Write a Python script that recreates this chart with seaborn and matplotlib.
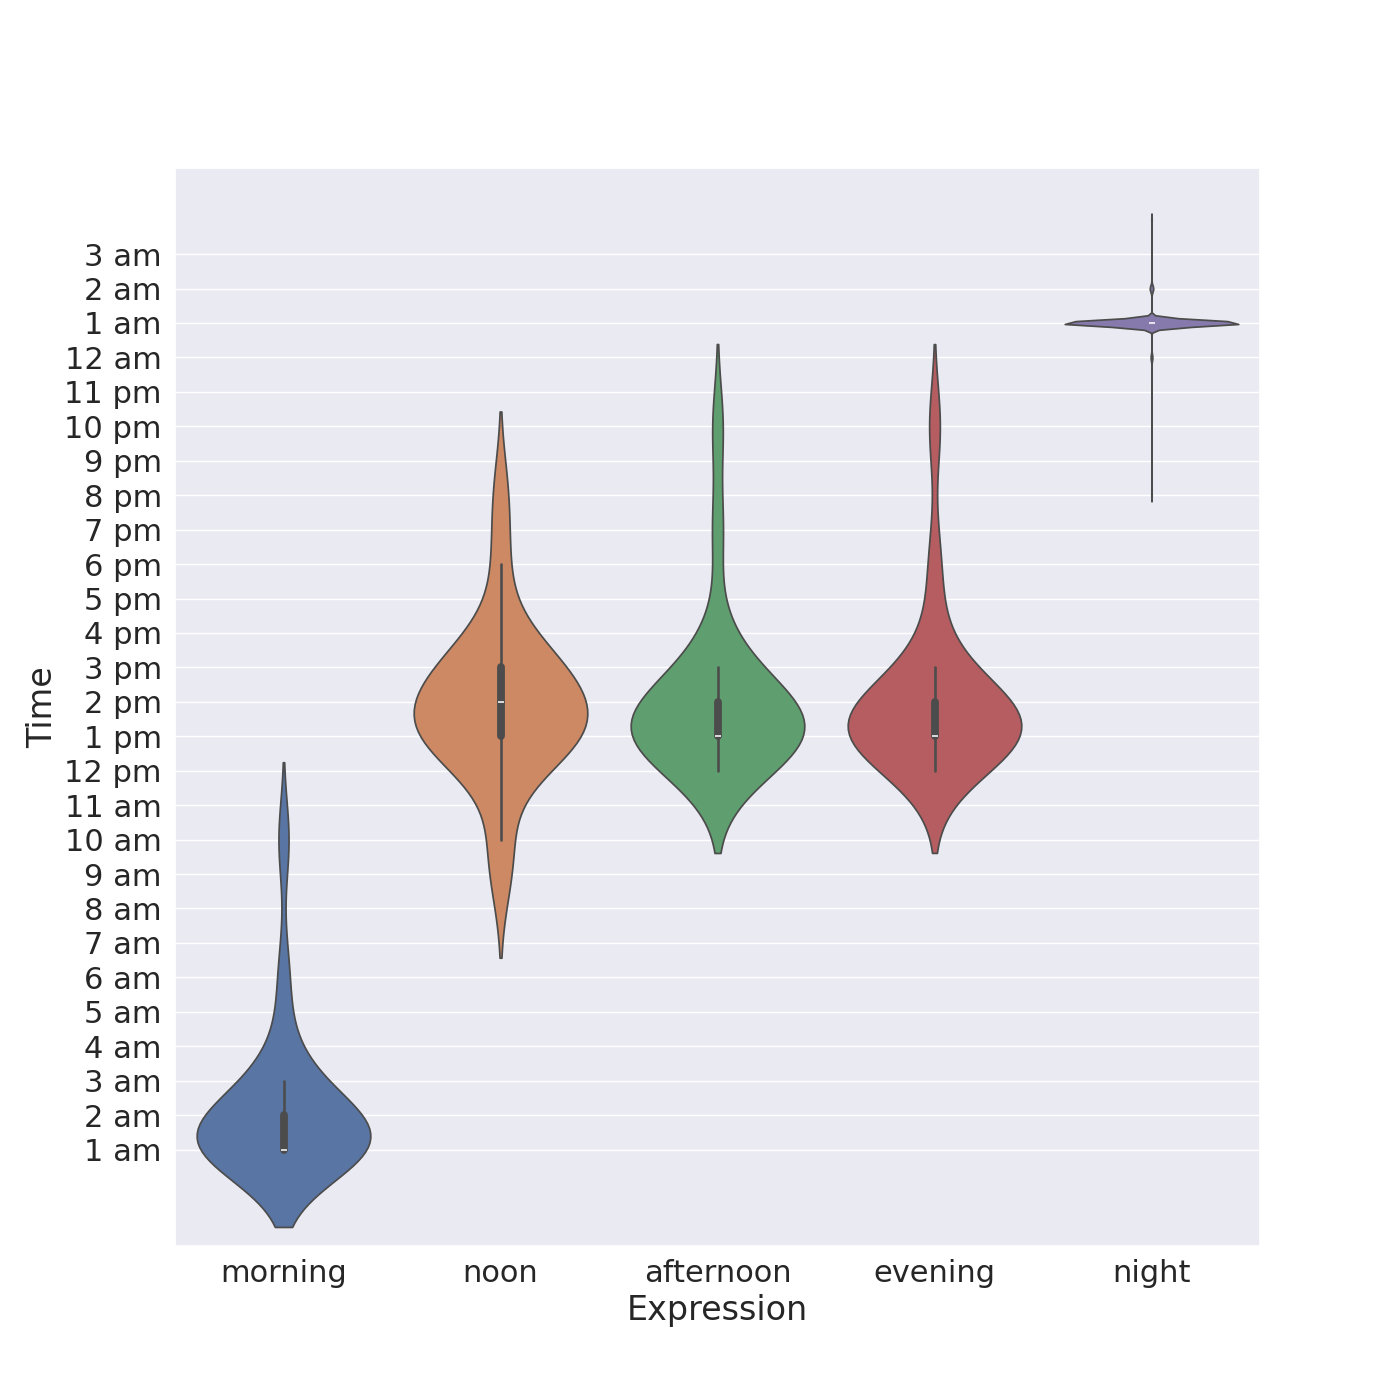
import pandas as pd
import matplotlib.pyplot as plt
import seaborn as sns

# hours since midnight (25 = 1 am next day)
morning = [1]*12 + [2]*6 + [3]*2 + [4, 6, 10]
noon = [13]*8 + [14]*4 + [15]*5 + [9, 10, 12, 16, 18, 20]
afternoon = [13]*10 + [14]*6 + [12]*3 + [15]*2 + [16, 19, 22]
evening = [13]*10 + [14]*6 + [12]*2 + [15, 16, 18, 22]
night = [25]*500 + [26]*10 + [24]*5 + [20, 28]

categories = ["morning", "noon", "afternoon", "evening", "night"]
tick_hours = list(range(1, 28))
tick_labels = ["1 am", "2 am", "3 am", "4 am", "5 am", "6 am", "7 am", "8 am", "9 am",
               "10 am", "11 am", "12 pm", "1 pm", "2 pm", "3 pm", "4 pm", "5 pm", "6 pm",
               "7 pm", "8 pm", "9 pm", "10 pm", "11 pm", "12 am", "1 am", "2 am", "3 am"]

rows = []
for name, vals in zip(categories, [morning, noon, afternoon, evening, night]):
    for v in vals:
        rows.append({"Expression": name, "Time": v})
df = pd.DataFrame(rows)

sns.set_theme(font_scale=2.0)
fig, ax = plt.subplots(figsize=(14, 14))
sns.violinplot(data=df, x="Expression", y="Time", hue="Expression",
               order=categories, palette="deep", legend=False, ax=ax)
ax.set_yticks(tick_hours)
ax.set_yticklabels(tick_labels)
ax.set_ylim(-1.8, 29.5)
fig.savefig("out.png", dpi=100)
